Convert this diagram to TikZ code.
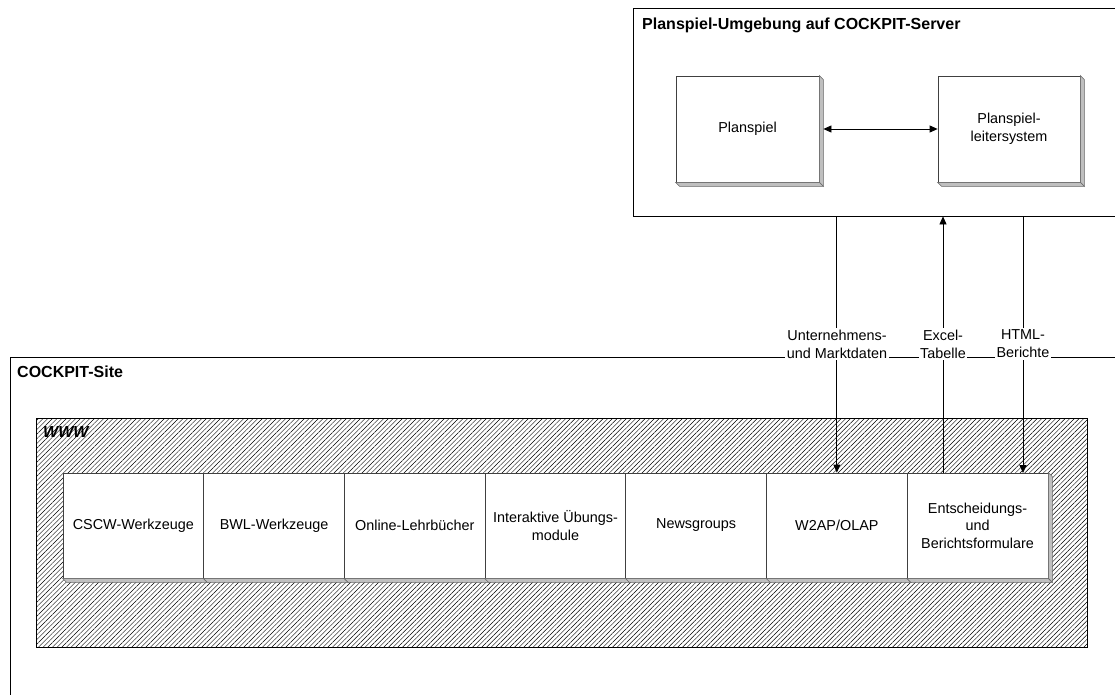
\documentclass[tikz,border=0pt]{standalone}
\usepackage{fontspec}
\setmainfont{Liberation Sans}
\usetikzlibrary{arrows.meta,calc,patterns.meta}

\begin{document}
\begin{tikzpicture}[x=1pt, y=1pt,
	frame/.style={rectangle, draw=black, line width=0.8pt, fill=white, inner sep=0pt},
	card/.style={rectangle, draw=black!75, line width=0.8pt, fill=white, align=center, minimum height=105pt, font=\fontsize{14.4}{17.5}\selectfont},
	bevel/.style={fill=black!25, draw=black!60, line width=0.6pt},
	flow/.style={line width=0.8pt, -{Triangle[length=8pt,width=7pt]}},
	tag/.style={fill=white, inner sep=1.5pt, align=center, font=\fontsize{14.4}{18}\selectfont},
	heading/.style={anchor=west, inner sep=0pt, font=\fontsize{16}{19}\selectfont\bfseries}]
				\useasboundingbox (0,0) rectangle (1115,-695);
				\begin{scope}
				\clip (0,0) rectangle (1115,-695);
				% site and www area
				\node (site) [frame, minimum width=1115pt, minimum height=348pt] at (567.5,-531) {};
				\node (www) [rectangle, draw=black, line width=0.8pt, pattern={Lines[angle=45,distance=3.3pt,line width=0.45pt]}, minimum width=1051pt, minimum height=229pt] at (561.5,-532.5) {};
				\node (cscw) [card, minimum width=140.7pt] at (133.35,-525.5) {CSCW-Werkzeuge};
				\node (bwl) [card, minimum width=140.7pt] at (274.05,-525.5) {BWL-Werkzeuge};
				\node (lehrbuch) [card, minimum width=140.7pt] at (414.75,-525.5) {Online-Lehrbücher};
				\node (uebung) [card, minimum width=140.7pt] at (555.45,-525.5) {Interaktive Übungs-\\module};
				\node (news) [card, minimum width=140.7pt] at (696.15,-525.5) {Newsgroups};
				\node (olap) [card, minimum width=140.7pt] at (836.85,-525.5) {W2AP/OLAP};
				\node (formular) [card, minimum width=140.7pt] at (977.55,-525.5) {Entscheidungs-\\und\\Berichtsformulare};
				% server
				\node (server) [frame, minimum width=487pt, minimum height=208pt] at (876.5,-112) {};
				\node (planspiel) [card, minimum width=143pt, minimum height=106pt] at (747.5,-129) {Planspiel};
				\node (leiter) [card, minimum width=142pt, minimum height=106pt] at (1009,-129) {Planspiel-\\leitersystem};
				\foreach \n in {planspiel,leiter,formular}
					\filldraw[bevel] (\n.north east) -- ++(4,-4) -- ($(\n.south east)+(4,-4)$) -- (\n.south east) -- cycle;
				\foreach \n in {planspiel,leiter,cscw,bwl,lehrbuch,uebung,news,olap,formular}
					\filldraw[bevel] (\n.south west) -- ++(4,-4) -- ($(\n.south east)+(4,-4)$) -- (\n.south east) -- cycle;
				\draw [line width=0.8pt, {Triangle[length=8pt,width=7pt]}-{Triangle[length=8pt,width=7pt]}] ([xshift=4pt]planspiel.east) -- (leiter.west);
				% data flows
				\coordinate (excelfoot) at (943,-473);
				\coordinate (htmlfoot) at (1023,-473);
				\draw [flow] (server.south -| olap.north) -- (olap.north);
				\draw [flow] (excelfoot) -- (excelfoot |- server.south);
				\draw [flow] (server.south -| htmlfoot) -- (htmlfoot);
				\node (marktdaten) [tag] at (837,-344) {Unternehmens-\\und Marktdaten};
				\node (tabelle) [tag] at (943,-344) {Excel-\\Tabelle};
				\node (berichte) [tag] at (1023,-344) {HTML-\\Berichte};
				\node (servertitle) [heading] at (642,-25) {Planspiel-Umgebung auf COCKPIT-Server};
				\node (sitetitle) [heading] at (17,-372) {COCKPIT-Site};
				\node (wwwtitle) [heading] at (43,-432) {\itshape WWW};
				\end{scope}
			\end{tikzpicture}
\end{document}
